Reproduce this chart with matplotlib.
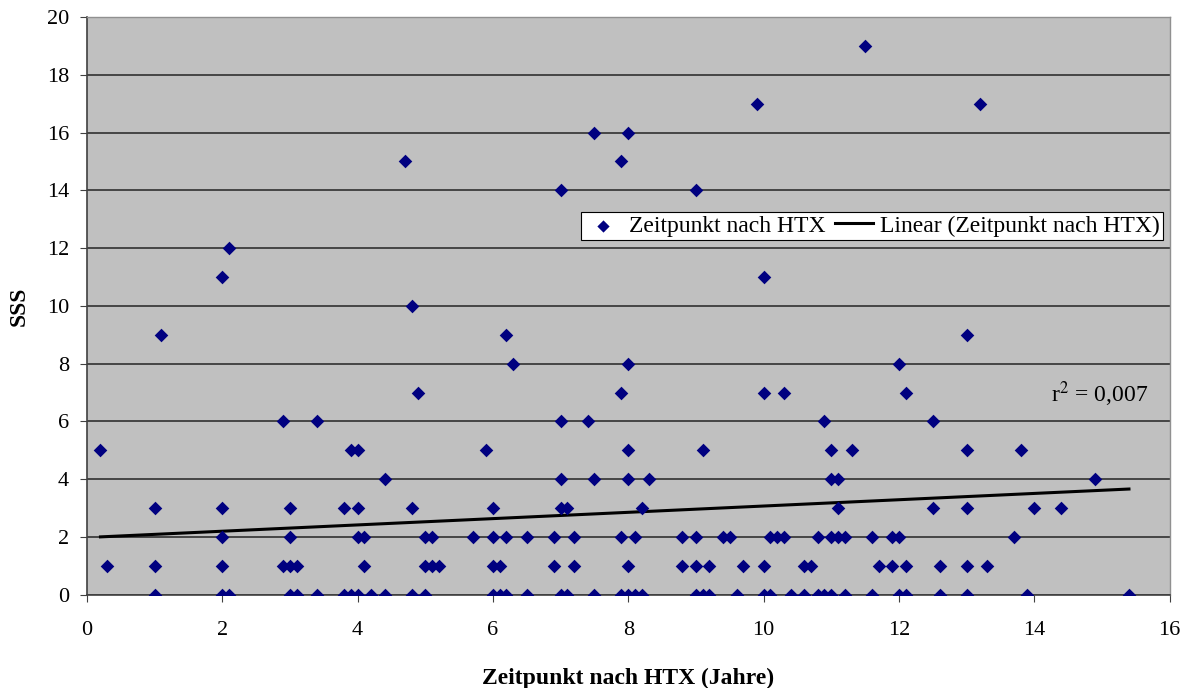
import numpy as np
import matplotlib
matplotlib.use("Agg")
import matplotlib.pyplot as plt

# SSS values per time point (years after HTX)
x_sss0 = [1.0, 2.0, 2.1, 3.0, 3.1, 3.4, 3.8, 3.9, 4.0, 4.2, 4.4, 4.8, 5.0, 6.0, 6.1, 6.2, 6.5,
          7.0, 7.1, 7.5, 7.9, 8.0, 8.1, 8.2, 9.0, 9.1, 9.2, 9.6, 10.0, 10.1, 10.4, 10.6,
          10.8, 10.9, 11.0, 11.2, 11.6, 12.0, 12.1, 12.6, 13.0, 13.9, 15.4]
x_sss1 = [0.3, 1.0, 2.0, 2.9, 3.0, 3.1, 4.1, 5.0, 5.1, 5.2, 6.0, 6.1, 6.9, 7.2, 8.0, 8.8, 9.0,
          9.2, 9.7, 10.0, 10.6, 10.7, 11.7, 11.9, 12.1, 12.6, 13.0, 13.3]
x_sss2 = [2.0, 3.0, 4.0, 4.1, 5.0, 5.1, 5.7, 6.0, 6.2, 6.5, 6.9, 7.2, 7.9, 8.1, 8.8, 9.0, 9.4,
          9.5, 10.1, 10.2, 10.3, 10.8, 11.0, 11.1, 11.2, 11.6, 11.9, 12.0, 13.7]
x_sss3 = [1.0, 2.0, 3.0, 3.8, 4.0, 4.8, 6.0, 7.0, 7.1, 8.2, 11.1, 12.5, 13.0, 14.0, 14.4]
x_sss4 = [4.4, 7.0, 7.5, 8.0, 8.3, 11.0, 11.1, 14.9]
x_sss5 = [0.2, 3.9, 4.0, 5.9, 8.0, 9.1, 11.0, 11.3, 13.0, 13.8]
x_sss6 = [2.9, 3.4, 7.0, 7.4, 10.9, 12.5]
x_sss7 = [4.9, 7.9, 10.0, 10.3, 12.1]
x_sss8 = [6.3, 8.0, 12.0]
x_sss9 = [1.1, 6.2, 13.0]
x_sss10 = [4.8]
x_sss11 = [2.0, 10.0]
x_sss12 = [2.1]
x_sss14 = [7.0, 9.0]
x_sss15 = [4.7, 7.9]
x_sss16 = [7.5, 8.0]
x_sss17 = [9.9, 13.2]
x_sss19 = [11.5]

rows = {0: x_sss0, 1: x_sss1, 2: x_sss2, 3: x_sss3, 4: x_sss4, 5: x_sss5, 6: x_sss6,
        7: x_sss7, 8: x_sss8, 9: x_sss9, 10: x_sss10, 11: x_sss11, 12: x_sss12,
        14: x_sss14, 15: x_sss15, 16: x_sss16, 17: x_sss17, 19: x_sss19}

# linear trend as shown in the chart (overlapping points hide some of the data)
trend_slope = 0.109
trend_intercept = 1.98
r2_text = 'r$^2$ = 0,007'

x = np.concatenate([np.array(v, dtype=float) for v in rows.values()])
y = np.concatenate([np.full(len(v), k, dtype=float) for k, v in rows.items()])

x_fit = np.array([x.min(), x.max()])
y_fit = trend_slope * x_fit + trend_intercept

plt.rcParams['font.family'] = ['Liberation Serif', 'DejaVu Serif']

fig = plt.figure(figsize=(11.91, 6.88), dpi=100)
ax = fig.add_axes([0.073, 0.1356, 0.909, 0.8397])
ax.set_facecolor('#C0C0C0')

ax.scatter(x, y, marker='D', s=48, color='#000080', zorder=3, linewidths=0,
           label='Zeitpunkt nach HTX')
ax.plot(x_fit, y_fit, color='black', lw=2.2, zorder=2, label='Linear (Zeitpunkt nach HTX)')

ax.set_xlim(0, 16)
ax.set_ylim(0, 20)
ax.set_xticks(np.arange(0, 17, 2))
ax.set_yticks(np.arange(0, 21, 2))
ax.tick_params(axis='both', labelsize=16, direction='out', length=5, color='#404040')
ax.tick_params(axis='x', pad=14)
ax.tick_params(axis='y', pad=8)
ax.yaxis.grid(True, color='#303030', lw=1.2)
ax.set_axisbelow(True)

for s in ['left', 'bottom']:
    ax.spines[s].set_color('#404040')
    ax.spines[s].set_linewidth(1.2)
for s in ['top', 'right']:
    ax.spines[s].set_color('#909090')
    ax.spines[s].set_linewidth(1.0)

ax.set_xlabel('Zeitpunkt nach HTX (Jahre)', fontsize=17, fontweight='bold', labelpad=20)
ax.set_ylabel('SSS', fontsize=17, fontweight='bold', labelpad=12)

leg = ax.legend(loc='upper right', bbox_to_anchor=(0.994, 0.663), ncol=2, fontsize=17,
                frameon=True, fancybox=False, edgecolor='black', framealpha=1,
                handlelength=1.6, handletextpad=0.3, columnspacing=0.4,
                borderpad=0.15, borderaxespad=0, markerscale=0.9)
leg.get_frame().set_linewidth(0.8)

ax.text(15.69, 6.95, r2_text, fontsize=17, va='center', ha='right',
        math_fontfamily='stix')

fig.savefig('out.png', dpi=100)
